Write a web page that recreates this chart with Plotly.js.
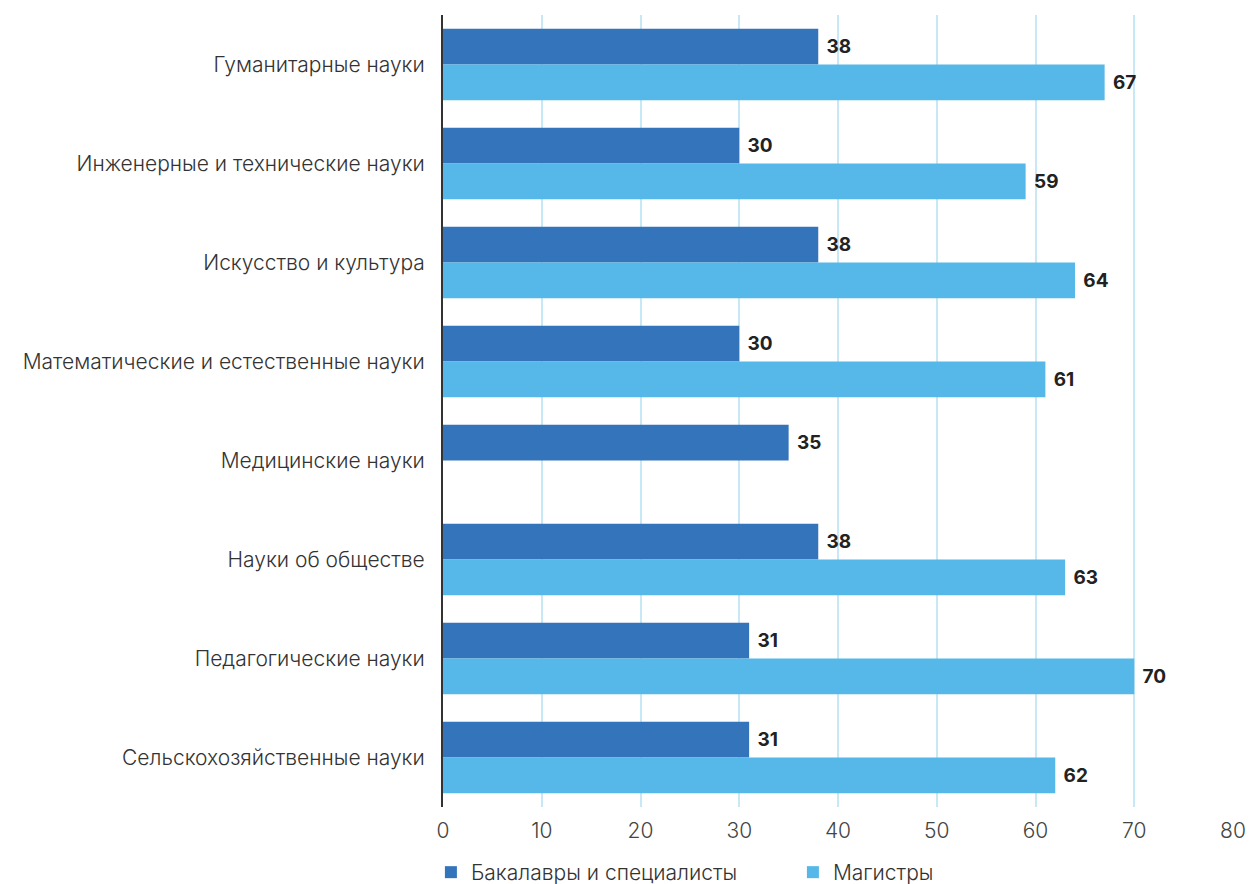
<!DOCTYPE html>
<html>
<head>
<meta charset="utf-8">
<script src="https://cdn.plot.ly/plotly-3.0.1.min.js"></script>
<style>html,body{margin:0;padding:0;background:#fff;}#chart{width:1249px;height:884px;}</style>
</head>
<body>
<div id="chart"></div>
<script>
const categories = [
  "Гуманитарные науки",
  "Инженерные и технические науки",
  "Искусство и культура",
  "Математические и естественные науки",
  "Медицинские науки",
  "Науки об обществе",
  "Педагогические науки",
  "Сельскохозяйственные науки"
];
const bachelors = [38, 30, 38, 30, 35, 38, 31, 31];
const masters = [67, 59, 64, 61, null, 63, 70, 62];
const seriesNames = ["Бакалавры и специалисты", "Магистры"];
const xTicks = [0, 10, 20, 30, 40, 50, 60, 70, 80];

const font = "Inter, 'Open Sans', sans-serif";
const common = {
  type: "bar", orientation: "h", y: categories,
  textposition: "outside", cliponaxis: false,
  texttemplate: " <b>%{x}</b>",
  textfont: {family: font, size: 19, color: "#222"},
  hoverinfo: "x+name"
};
const data = [
  Object.assign({}, common, {x: bachelors, name: seriesNames[0], marker: {color: "#3474BB"}}),
  Object.assign({}, common, {x: masters, name: seriesNames[1], marker: {color: "#55B8E8"}})
];
const layout = {
  width: 1249, height: 884,
  margin: {l: 443, r: 16, t: 15, b: 77},
  paper_bgcolor: "#fff", plot_bgcolor: "#fff",
  barmode: "group", bargap: 0.28, bargroupgap: 0,
  font: {family: font, color: "#333"},
  xaxis: {
    range: [0, 80], tickvals: xTicks, ticktext: xTicks.map(String),
    showgrid: true, gridcolor: "#c8e8f5", gridwidth: 2,
    zeroline: false, showline: false, automargin: false,
    tickfont: {family: font, size: 21, weight: 300, color: "#444"},
    ticks: "", ticklabelstandoff: 9
  },
  yaxis: {
    autorange: "reversed", showgrid: false, zeroline: false,
    showline: true, linecolor: "#333", linewidth: 2, automargin: false,
    tickfont: {family: font, size: 21, weight: 300, color: "#333"},
    ticks: "", ticklabelstandoff: 12
  },
  legend: {
    orientation: "h", xref: "container", yref: "container",
    x: 0.345, xanchor: "left", y: 0.013, yanchor: "middle",
    font: {family: font, size: 21, weight: 300, color: "#333"},
    entrywidth: 317, traceorder: "normal"
  },
  showlegend: true
};
Plotly.newPlot("chart", data, layout, {displayModeBar: false, staticPlot: true});
</script>
</body>
</html>
